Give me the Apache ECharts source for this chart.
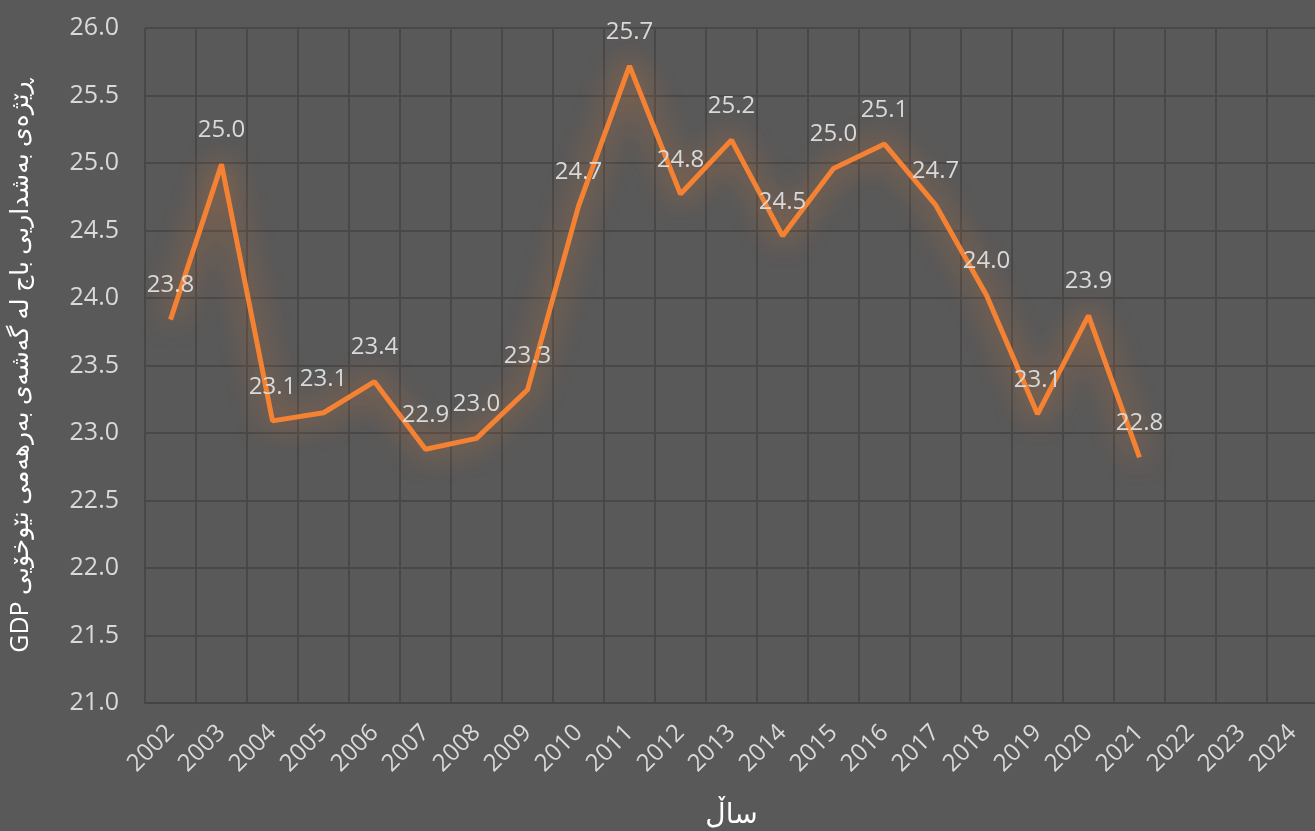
<!DOCTYPE html>
<html>
<head>
    <meta charset="utf-8">
    <title>GDP</title>
    <script src="https://cdn.jsdelivr.net/npm/echarts@6/dist/echarts.min.js"></script>
    <style>
        html, body { margin: 0; padding: 0; background: #595959; }
    </style>
</head>
<body>
    <div id="main" style="width: 1315px;height:831px;"></div>
<script type="text/javascript">
    var myChart = echarts.init(document.getElementById('main'));

// سال و نرخەکان
var years = ['2002', '2003', '2004', '2005', '2006', '2007', '2008', '2009', '2010', '2011', '2012',
             '2013', '2014', '2015', '2016', '2017', '2018', '2019', '2020', '2021', '2022', '2023', '2024'];
var taxShare = [23.84, 24.99, 23.09, 23.15, 23.38, 22.88, 22.96, 23.32, 24.68, 25.72, 24.77,
                25.17, 24.46, 24.96, 25.14, 24.69, 24.02, 23.14, 23.87, 22.82, null, null, null];
var yTitle = 'ڕێژەی بەشداریی باج لە گەشەی بەرهەمی نێوخۆیی GDP';
var xTitle = 'ساڵ';

var textColor = '#d9d9d9';
var fontFam = '"Open Sans", "DejaVu Sans", sans-serif';

option = {
    backgroundColor: '#595959',
    grid: {
        left: 145,
        right: -3,
        top: 28,
        bottom: 128,
        outerBoundsMode: 'none'
    },
    xAxis: {
        type: 'category',
        data: years,
        boundaryGap: true,
        name: xTitle,
        nameLocation: 'middle',
        nameGap: 98,
        nameTextStyle: { color: '#ffffff', fontSize: 28, fontFamily: fontFam },
        axisLine: { show: true, lineStyle: { color: '#444444', width: 2 } },
        axisTick: { show: false },
        axisLabel: {
            color: textColor,
            fontSize: 24,
            fontFamily: fontFam,
            rotate: 45,
            margin: 26,
            interval: 0
        },
        splitLine: { show: true, interval: 0, lineStyle: { color: '#484848', width: 2 } }
    },
    yAxis: {
        type: 'value',
        min: 21,
        max: 26,
        interval: 0.5,
        // RLE ... PDF تا GDP لە خوارەوە بێت
        name: '\u202B' + yTitle + '\u202C',
        nameLocation: 'middle',
        nameGap: 112,
        nameRotate: 90,
        nameTextStyle: { color: '#ffffff', fontSize: 25, fontFamily: fontFam },
        axisLine: { show: false },
        axisTick: { show: false },
        axisLabel: {
            color: textColor,
            fontSize: 25,
            fontFamily: fontFam,
            margin: 26,
            formatter: function (v) { return v.toFixed(1); }
        },
        splitLine: { show: true, lineStyle: { color: '#484848', width: 2 } }
    },
    series: [
        {
            name: 'taxShare',
            type: 'line',
            symbol: 'circle',
            symbolSize: 0.1,
            showSymbol: true,
            itemStyle: { color: 'rgba(0,0,0,0)' },
            data: taxShare,
            lineStyle: {
                color: '#f58232',
                width: 5,
                shadowColor: 'rgba(237,125,49,0.9)',
                shadowBlur: 30
            },
            label: {
                show: true,
                position: 'top',
                distance: 22,
                color: textColor,
                fontSize: 24,
                fontFamily: fontFam,
                formatter: function (p) { return p.value == null ? '' : p.value.toFixed(1); }
            },
            emphasis: { disabled: true }
        }
    ]
};

    myChart.setOption(option);
</script>
</body>
</html>
